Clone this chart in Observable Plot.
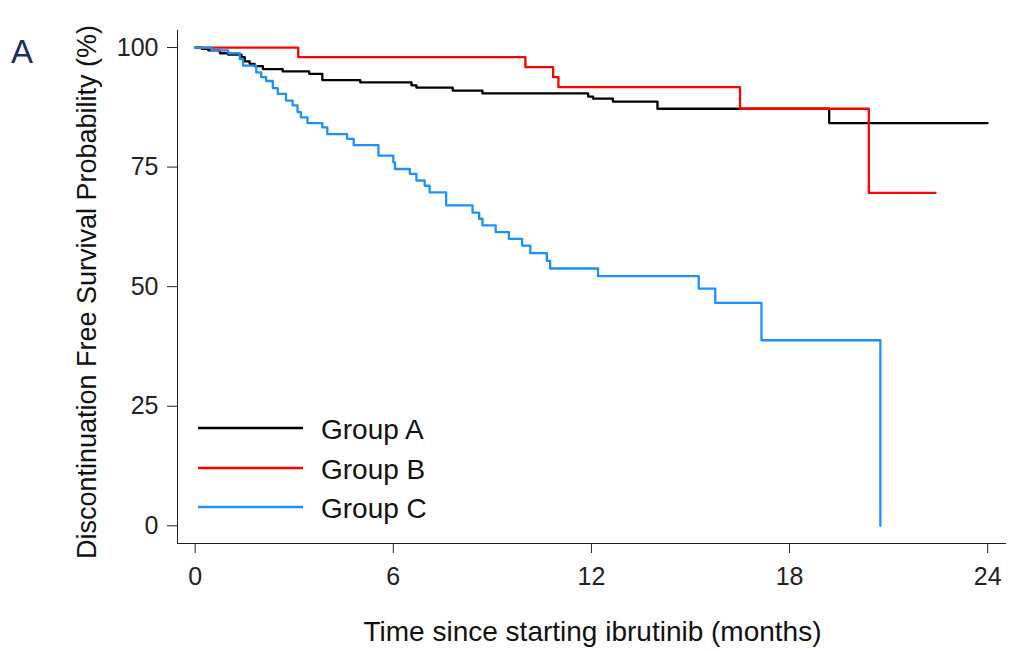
<!DOCTYPE html>
<html>
<head>
<meta charset="utf-8">
<script src="https://cdn.jsdelivr.net/npm/d3@7"></script>
<script src="https://cdn.jsdelivr.net/npm/@observablehq/plot@0.6"></script>
<style>
  html, body { margin: 0; padding: 0; background: #fff; }
  #wrap { position: relative; width: 1014px; height: 651px; }
  #overlay { position: absolute; left: 0; top: 0; pointer-events: none; }
</style>
</head>
<body>
<div id="wrap"><div id="chart"></div><svg id="overlay" width="1014" height="651"></svg></div>
<script>
// ---- data ----
const groups = ["Group A", "Group B", "Group C"];
const groupColors = ["#000000", "#ff0000", "#1e8fff"];

const groupATime  = [0, 0.2, 0.4, 0.75, 1.0, 1.4, 1.5, 1.65, 1.8, 2.05, 2.65, 3.45, 3.85, 5.0, 6.55, 6.7, 7.8, 8.7, 11.9, 12.05, 12.65, 14.0, 19.2, 24.0];
const groupAValue = [100, 99.7, 99.4, 98.8, 98.5, 98.0, 97.1, 96.6, 96.1, 95.5, 95.0, 94.5, 93.2, 92.7, 92.1, 91.6, 91.0, 90.4, 89.75, 89.3, 88.7, 87.2, 84.2, 84.2];

const groupBTime  = [0, 3.12, 10.0, 10.84, 11.0, 16.5, 20.4, 22.42];
const groupBValue = [100, 98.0, 95.9, 93.8, 91.7, 87.2, 69.6, 69.6];

const groupCTime  = [0, 0.5, 1.0, 1.35, 1.45, 1.85, 2.0, 2.15, 2.35, 2.5, 2.75, 2.95, 3.1, 3.2, 3.4, 3.85, 4.0, 4.6, 4.8, 5.55, 6.0, 6.05, 6.5, 6.7, 6.95, 7.1, 7.6, 8.4, 8.6, 8.7, 9.1, 9.5, 9.9, 10.15, 10.65, 10.75, 12.2, 15.25, 15.75, 17.15, 20.75];
const groupCValue = [100, 99.4, 98.8, 97.6, 96.2, 94.8, 93.8, 93.0, 91.5, 90.3, 88.9, 87.9, 86.5, 85.4, 84.2, 83.3, 81.9, 80.9, 79.6, 77.4, 76.0, 74.6, 73.6, 72.2, 71.1, 69.7, 67.0, 65.5, 64.2, 62.8, 61.4, 60.0, 58.6, 57.0, 55.4, 53.8, 52.2, 49.6, 46.6, 38.8, 0];

const xTicks = [0, 6, 12, 18, 24];
const yTicks = [0, 25, 50, 75, 100];
const xTitle = "Time since starting ibrutinib (months)";
const yTitle = "Discontinuation Free Survival Probability (%)";
const panelLabel = "A";

// ---- build table ----
const series = [[groupATime, groupAValue], [groupBTime, groupBValue], [groupCTime, groupCValue]];
const rows = [];
series.forEach(([ts, vs], gi) => ts.forEach((t, i) => rows.push({group: groups[gi], t, s: vs[i]})));

const font = "'Liberation Sans', Arial, Helvetica, sans-serif";

const chart = Plot.plot({
  width: 1014,
  height: 651,
  marginLeft: 177,
  marginRight: 9,
  marginTop: 30,
  marginBottom: 108,
  style: {fontFamily: font, fontSize: "25px", color: "#222", background: "#fff", overflow: "visible"},
  x: {domain: [-0.536, 24.54], ticks: xTicks, tickSize: 10, tickPadding: 14, label: null, line: true},
  y: {domain: [-3.7, 103.56], ticks: yTicks, tickSize: 10, tickPadding: 9, label: null, line: true},
  color: {domain: groups, range: groupColors},
  marks: [
    Plot.line(rows, {x: "t", y: "s", z: "group", stroke: "group", curve: "step-after", strokeWidth: 2.3}),
    Plot.text([yTitle], {text: d => d, frameAnchor: "left", textAnchor: "middle", lineAnchor: "middle", rotate: -90, dx: -90, dy: 5, fontSize: 27, fill: "#111"}),
    Plot.text([xTitle], {text: d => d, frameAnchor: "bottom", textAnchor: "middle", lineAnchor: "middle", dx: 1, dy: 89, fontSize: 28, fill: "#111"})
  ]
});
document.getElementById("chart").appendChild(chart);

// ---- overlay: panel label and legend ----
const ov = d3.select("#overlay");
ov.append("text").attr("x", 11).attr("y", 63).attr("font-family", font).attr("font-size", 33)
  .attr("fill", "#1f2b5e").text(panelLabel);
const lg = ov.append("g");
const legendY = [428, 468, 507];
groups.forEach((g, i) => {
  lg.append("line").attr("x1", 198).attr("x2", 303).attr("y1", legendY[i]).attr("y2", legendY[i])
    .attr("stroke", groupColors[i]).attr("stroke-width", 2.3);
  lg.append("text").attr("x", 321).attr("y", legendY[i] + 11).attr("font-family", font)
    .attr("font-size", 28).attr("fill", "#111").text(g);
});
</script>
</body>
</html>
